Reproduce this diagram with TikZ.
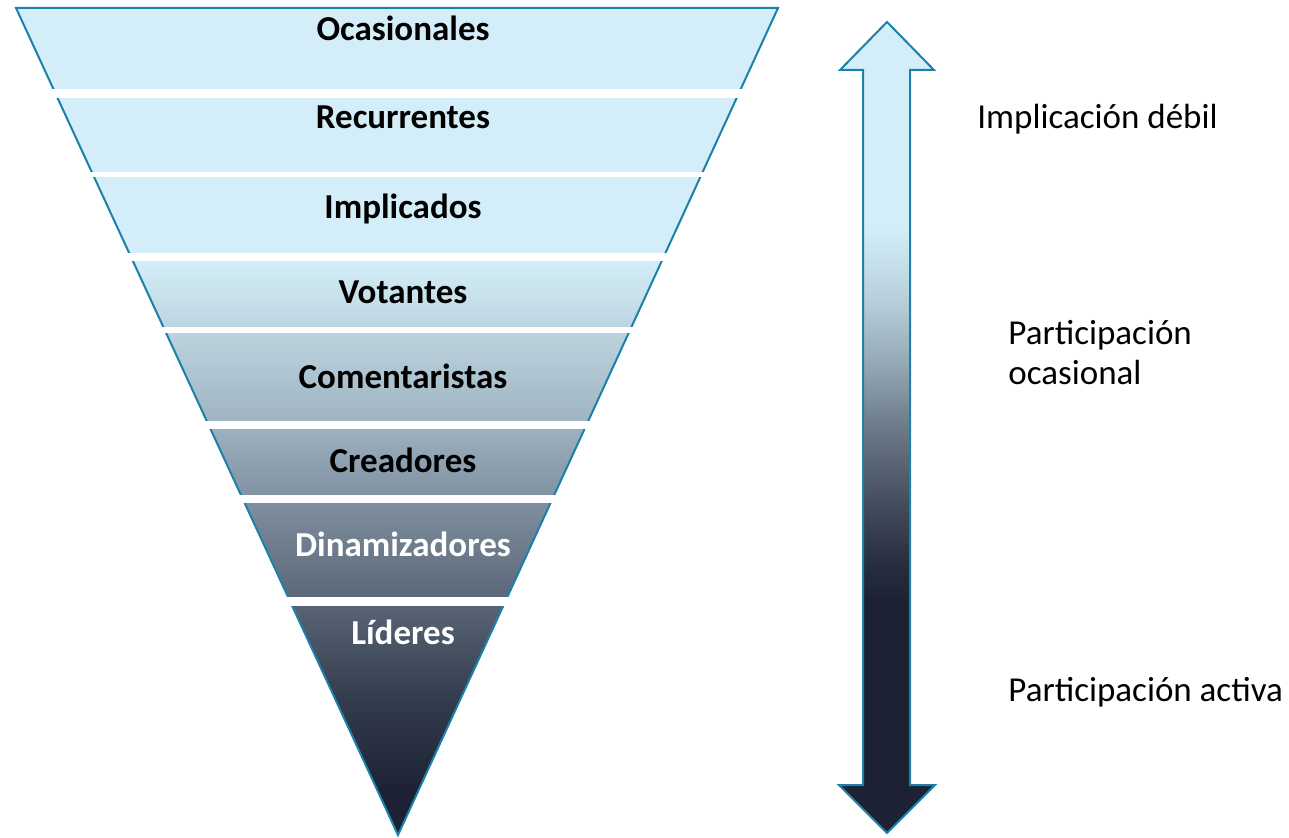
\documentclass[tikz,border=0pt]{standalone}
\usepackage{fontspec}
\setmainfont{Carlito}
\definecolor{edge}{HTML}{1B80AA}
\definecolor{light}{HTML}{D3EEF8}
\definecolor{dark}{HTML}{1C2233}
\definecolor{HTMLc1}{HTML}{333C4D}
\definecolor{HTMLc2}{HTML}{5A6677}
\definecolor{HTMLc3}{HTML}{7F90A0}
\definecolor{HTMLc4}{HTML}{A0B4C2}
\definecolor{HTMLc5}{HTML}{BDD4DF}
\definecolor{HTMLa1}{HTML}{283042}
\definecolor{HTMLa2}{HTML}{464F60}
\definecolor{HTMLa3}{HTML}{6C7A8A}
\definecolor{HTMLa4}{HTML}{93A6B4}
\definecolor{HTMLa5}{HTML}{B8CFDB}
\pgfdeclareverticalshading{trishade}{100bp}{%
  color(0bp)=(dark); color(25bp)=(dark);
  color(27.7bp)=(dark);
  color(33.15bp)=(HTMLc1); color(39.2bp)=(HTMLc2);
  color(45.25bp)=(HTMLc3); color(50.1bp)=(HTMLc4);
  color(55.55bp)=(HTMLc5); color(59.75bp)=(light);
  color(75bp)=(light); color(100bp)=(light)}
\pgfdeclareverticalshading{arrshade}{100bp}{%
  color(0bp)=(dark); color(25bp)=(dark);
  color(39.35bp)=(dark);
  color(41.85bp)=(HTMLa1); color(45.55bp)=(HTMLa2);
  color(50.05bp)=(HTMLa3); color(53.75bp)=(HTMLa4);
  color(57.85bp)=(HTMLa5); color(62.2bp)=(light);
  color(75bp)=(light); color(100bp)=(light)}
\tikzset{
  lvl/.style={anchor=base, font=\fontsize{17.5}{20}\selectfont\bfseries, inner sep=0pt},
  side/.style={anchor=base west, font=\fontsize{17.5}{20}\selectfont, inner sep=0pt, align=left},
  outline/.style={draw=edge, line width=1pt, line join=miter},
  gap/.style={fill=white, draw=none}
}
\begin{document}
\begin{tikzpicture}[x=0.5pt, y=-0.5pt]
\useasboundingbox (0,0) rectangle (1289,838);
% funnel
\shade[shading=trishade] (16,8) -- (778,8) -- (398,835) -- cycle;
\draw[outline] (16,8) -- (778,8) -- (398,835) -- cycle;
\foreach \a/\b in {89/98, 172/177.5, 253/261, 327/333, 421/429, 495/503, 597/606}
  \fill[gap] (0,\a) rectangle (800,\b);
% labels
\node[lvl] (l1) at (403,41) {Ocasionales};
\node[lvl] (l2) at (403,129) {Recurrentes};
\node[lvl] (l3) at (403,219) {Implicados};
\node[lvl] (l4) at (403,304) {Votantes};
\node[lvl] (l5) at (403,389) {Comentaristas};
\node[lvl] (l6) at (403,473) {Creadores};
\node[lvl, text=white] (l7) at (403,557) {Dinamizadores};
\node[lvl, text=white] (l8) at (403,645) {Líderes};
% double arrow
\shade[shading=arrshade] (887,22) -- (934,70) -- (910,70) -- (910,785) -- (935,785) -- (887,833)
  -- (839,785) -- (863,785) -- (863,70) -- (840,70) -- cycle;
\draw[outline] (887,22) -- (934,70) -- (910,70) -- (910,785) -- (935,785) -- (887,833)
  -- (839,785) -- (863,785) -- (863,70) -- (840,70) -- cycle;
% side texts
\node[side] (s1) at (977,129) {Implicación débil};
\node[side] (s2) at (1008,385) {Participación\\ocasional};
\node[side] (s3) at (1008,701.5) {Participación activa};
\end{tikzpicture}
\end{document}
